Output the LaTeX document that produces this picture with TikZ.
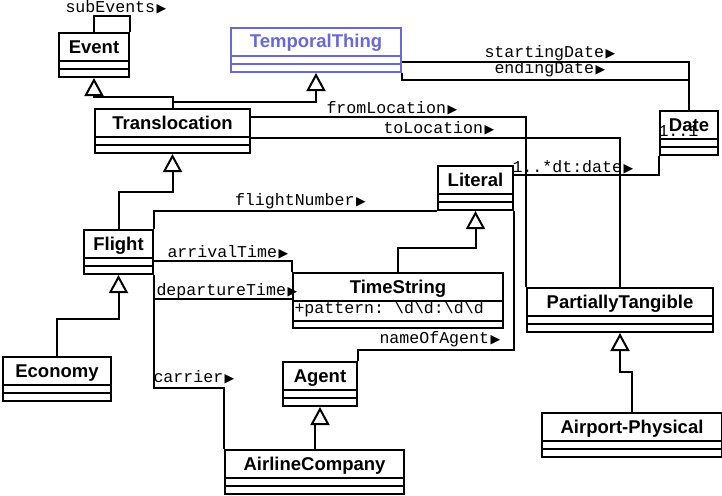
\documentclass[tikz,border=0pt]{standalone}
\usepackage{fontspec}
\setmainfont{Liberation Sans}
\newfontfamily\monofont{Liberation Mono}
\newfontfamily\symfont{DejaVu Sans}
\usetikzlibrary{arrows.meta,positioning}
\definecolor{umlblue}{RGB}{104,104,214}
\newcommand{\navarrow}{\hspace{1.5pt}{\symfont\fontsize{12.5}{12.5}\selectfont ▶}}

\begin{document}
\begin{tikzpicture}[
    x=1pt, y=-1pt,
    line width=2pt,
    sepone/.store in=\sepone,
    septwo/.store in=\septwo,
    sepcolor/.store in=\sepcolor,
    classbox/.style={
        rectangle,
        draw,
        anchor=north west,
        inner sep=0pt,
        minimum height=44pt,
        text height=20pt,
        text depth=24pt,
        font=\fontsize{18.5}{20}\selectfont\bfseries,
        sepone=28, septwo=36, sepcolor=black,
        path picture={
            \draw[draw=\sepcolor]
                ([yshift=-\sepone pt]path picture bounding box.north west) --
                ([yshift=-\sepone pt]path picture bounding box.north east)
                ([yshift=-\septwo pt]path picture bounding box.north west) --
                ([yshift=-\septwo pt]path picture bounding box.north east);
        }
    },
    role/.style={
        anchor=base west,
        inner sep=0pt,
        font=\monofont\fontsize{16.6}{17}\selectfont
    },
    gen/.style={
        -{Triangle[length=18pt, width=19pt, fill=white]}
    }
]
\useasboundingbox (0,0) rectangle (722,495);

% Classes
\node[classbox, minimum width=70pt] (event) at (58,32) {Event};
\node[classbox, minimum width=170pt, color=umlblue, sepcolor=umlblue] (temporal) at (230,27) {TemporalThing};
\node[classbox, minimum width=155pt] (translocation) at (94,108) {Translocation};
\node[classbox, minimum width=58pt] (date) at (659,110) {Date};
\node[classbox, minimum width=75pt] (literal) at (437,165) {Literal};
\node[classbox, minimum width=69pt] (flight) at (83,229) {Flight};
\node[classbox, minimum width=210pt, minimum height=55pt, text depth=35pt, septwo=48] (timestring) at (292,272) {TimeString};
\node[classbox, minimum width=186pt] (partial) at (526,287) {PartiallyTangible};
\node[classbox, minimum width=108pt] (economy) at (2,356) {Economy};
\node[classbox, minimum width=74pt] (agent) at (282,361) {Agent};
\node[classbox, minimum width=180pt] (airport) at (541,412) {Airport-Physical};
\node[classbox, minimum width=179pt] (airline) at (224,449) {AirlineCompany};

% Attribute
\node[role] (pattern) at (293.5,313) {+pattern:\hspace{0.6em}\textbackslash d\textbackslash d:\textbackslash d\textbackslash d};

% Generalizations
\draw[gen] (translocation.north) -- ++(0,-11) -| (event.south);
\draw[gen] (translocation.north) -- ++(0,-6.5) -| (temporal.south);
\draw[gen] (flight.north) -- ++(0,-37) -| (translocation.south);
\draw[gen] (economy.north) -- ++(0,-37) -| (flight.south);
\draw[gen] (timestring.north) -- ++(0,-24) -| (literal.south);
\draw[gen] (airline.north) -- ++(0,-25) -| (agent.south);
\draw[gen] (airport.north) -- ++(0,-40) -| (partial.south);

% Associations
\draw (event.north) -- ++(0,-16) -| (event.north east);
\draw ([yshift=-35pt]temporal.north east) -| (date.north);
\draw (temporal.south east) -- ++(0,7) -| (date.north);
\draw ([yshift=-9pt]translocation.north east) -| (partial.north west);
\draw ([yshift=-30pt]translocation.north east) -| (partial.north);
\draw ([yshift=-10pt]literal.north east) -| (date.south west);
\draw (flight.north east) |- (literal.south west);
\draw ([yshift=-32pt]flight.north east) -| (timestring.north west);
\draw (flight.south east) |- ([yshift=-27pt]timestring.north west);
\draw (flight.south east) -- ++(0,113) -| (airline.north west);
\draw (literal.south east) -- ++(0,139) -| (agent.north east);

% Role names
\node[role] (subevents) at (64.5,13) {subEvents\navarrow};
\node[role] (startingdate) at (483.5,57.5) {startingDate\navarrow};
\node[role] (endingdate) at (493.5,74) {endingDate\navarrow};
\node[role] (fromlocation) at (325.5,113) {fromLocation\navarrow};
\node[role] (tolocation) at (382.5,133.5) {toLocation\navarrow};
\node[role] (datemult) at (657.5,136) {1..1};
\node[role] (dtdate) at (511.5,172.5) {1..*dt:date\navarrow};
\node[role] (flightnumber) at (234,205.5) {flightNumber\navarrow};
\node[role] (arrivaltime) at (166.5,257) {arrivalTime\navarrow};
\node[role] (departuretime) at (155.5,295) {departureTime\navarrow};
\node[role] (nameofagent) at (378.5,343.5) {nameOfAgent\navarrow};
\node[role] (carrier) at (152.5,382) {carrier\navarrow};

\end{tikzpicture}
\end{document}
